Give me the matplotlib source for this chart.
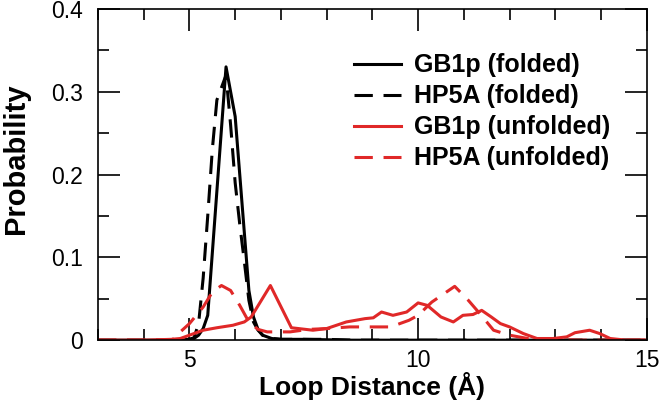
import matplotlib
matplotlib.use("Agg")
import matplotlib.pyplot as plt

# ======================================================
# DATA
# ======================================================

gb1p_folded_x = [3.0, 4.6, 4.8, 5.0, 5.1, 5.2, 5.3, 5.4, 5.8, 6.0, 6.1, 6.2, 6.3,
                 6.4, 6.5, 6.6, 6.8, 7.0, 7.5, 8.0, 8.5, 15.0]
gb1p_folded_y = [0.0, 0.0, 0.0, 0.001, 0.002, 0.006, 0.014, 0.03, 0.33, 0.27, 0.2,
                 0.13, 0.06, 0.028, 0.013, 0.006, 0.002, 0.001, 0.001, 0.0005, 0.0, 0.0]

hp5a_folded_x = [3.0, 4.8, 5.0, 5.1, 5.2, 5.3, 5.4, 5.5, 5.6, 5.8, 5.9, 6.0, 6.1,
                 6.2, 6.3, 6.4, 6.5, 6.6, 6.8, 7.0, 7.5, 8.0, 8.6, 15.0]
hp5a_folded_y = [0.0, 0.0, 0.001, 0.003, 0.02, 0.075, 0.15, 0.23, 0.29, 0.32, 0.26,
                 0.19, 0.14, 0.095, 0.048, 0.022, 0.012, 0.006, 0.002, 0.001, 0.001,
                 0.001, 0.0, 0.0]

gb1p_unfolded_x = [3.0, 4.0, 4.6, 4.8, 5.0, 5.3, 5.6, 5.95, 6.2, 6.35, 6.77, 7.23,
                   7.7, 8.0, 8.43, 8.84, 9.02, 9.2, 9.45, 9.75, 10.0, 10.2, 10.5,
                   10.77, 10.98, 11.2, 11.39, 11.6, 11.8, 12.0, 12.3, 12.6, 12.95,
                   13.25, 13.43, 13.75, 13.97, 14.2, 14.55, 15.0]
gb1p_unfolded_y = [0.0, 0.0, 0.001, 0.002, 0.006, 0.012, 0.015, 0.018, 0.022, 0.028,
                   0.066, 0.015, 0.012, 0.014, 0.022, 0.026, 0.027, 0.034, 0.030,
                   0.034, 0.045, 0.042, 0.028, 0.022, 0.030, 0.031, 0.036, 0.028,
                   0.020, 0.016, 0.008, 0.002, 0.002, 0.004, 0.009, 0.012, 0.008,
                   0.002, 0.0, 0.0]

hp5a_unfolded_x = [3.0, 4.6, 4.7, 4.8, 5.0, 5.3, 5.5, 5.7, 5.9, 6.1, 6.3, 6.5, 6.7,
                   7.0, 7.2, 7.6, 8.0, 8.5, 9.0, 9.4, 9.8, 10.0, 10.3, 10.8, 11.1,
                   11.35, 11.65, 12.0, 12.4, 13.0, 13.5, 15.0]
hp5a_unfolded_y = [0.0, 0.0, 0.003, 0.01, 0.02, 0.04, 0.058, 0.066, 0.06, 0.042,
                   0.022, 0.013, 0.01, 0.01, 0.01, 0.013, 0.014, 0.016, 0.016, 0.016,
                   0.024, 0.03, 0.046, 0.065, 0.048, 0.032, 0.012, 0.006, 0.002,
                   0.001, 0.0, 0.0]

BLACK = "black"
RED = "#e02828"
DASH = (0, (6, 3.5))

# ======================================================
# PLOT
# ======================================================

plt.rcParams["font.family"] = ["Liberation Sans", "DejaVu Sans"]

fig = plt.figure(figsize=(6.62, 4.04), dpi=100)
ax = fig.add_axes([0.148, 0.158, 0.829, 0.82])

ax.plot(gb1p_folded_x, gb1p_folded_y, color=BLACK, lw=2.2, label="GB1p (folded)")
ax.plot(hp5a_folded_x, hp5a_folded_y, color=BLACK, lw=2.2, linestyle=DASH,
        label="HP5A (folded)")
ax.plot(gb1p_unfolded_x, gb1p_unfolded_y, color=RED, lw=2.2, label="GB1p (unfolded)")
ax.plot(hp5a_unfolded_x, hp5a_unfolded_y, color=RED, lw=2.2, linestyle=DASH,
        label="HP5A (unfolded)")

ax.set_xlim(3, 15)
ax.set_ylim(0, 0.4)
ax.set_xticks([5, 10, 15])
ax.set_xticks(range(3, 16), minor=True)
ax.set_yticks([0, 0.1, 0.2, 0.3, 0.4])
ax.set_yticklabels(["0", "0.1", "0.2", "0.3", "0.4"])
ax.set_yticks([0.05, 0.15, 0.25, 0.35], minor=True)

ax.tick_params(which="both", direction="in", top=True, right=True, width=1.2,
               labelsize=16.5)
ax.tick_params(which="major", length=16)
ax.tick_params(which="minor", length=8)
ax.tick_params(axis="x", pad=6)
ax.tick_params(axis="y", pad=11)
for s in ax.spines.values():
    s.set_linewidth(1.2)

ax.set_xlabel("Loop Distance (Å)", fontsize=19, fontweight="bold", labelpad=0)
ax.set_ylabel("Probability", fontsize=21, fontweight="bold")
ax.yaxis.set_label_coords(-0.124, 0.547)

leg = ax.legend(loc="upper right", frameon=False, handlelength=1.88,
                bbox_to_anchor=(0.974, 0.934), labelspacing=0.28, handletextpad=0.5,
                prop={"size": 18, "weight": "bold"})

fig.savefig("out.png", dpi=100)
